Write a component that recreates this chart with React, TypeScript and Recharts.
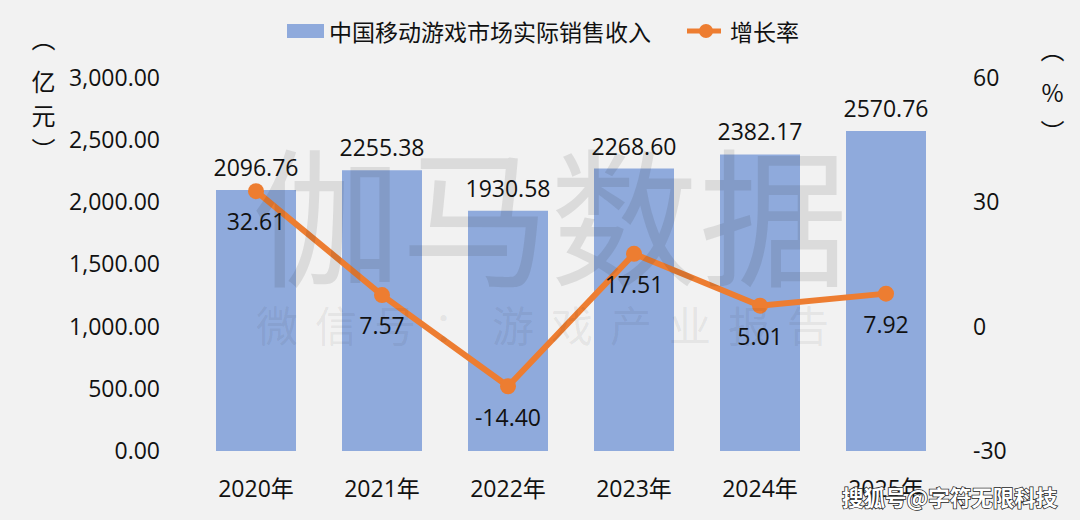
import React from 'react';
import { ComposedChart, Bar, Line, XAxis, YAxis, Legend, LabelList } from 'recharts';

const years = ['2020年', '2021年', '2022年', '2023年', '2024年', '2025年'];
const revenue = [2096.76, 2255.38, 1930.58, 2268.6, 2382.17, 2570.76];
const growth = [32.61, 7.57, -14.4, 17.51, 5.01, 7.92];
const revenueTicks = [0, 500, 1000, 1500, 2000, 2500, 3000];
const growthTicks = [-30, 0, 30, 60];

const BAR_NAME = '中国移动游戏市场实际销售收入';
const LINE_NAME = '增长率';
const FONT = '"Open Sans", "Noto Sans CJK SC", sans-serif';
const CJK_FONT = '"Noto Sans CJK SC", sans-serif';
const TEXT = '#111';

const data = years.map((year, i) => ({ year, revenue: revenue[i], growth: growth[i] }));

const formatRevenue = (val: number) =>
    val.toLocaleString('en-US', { minimumFractionDigits: 2, maximumFractionDigits: 2 });

const LegendContent = () => (
    <div style={{ display: 'flex', alignItems: 'center', height: 36, fontSize: 23, color: TEXT, fontFamily: CJK_FONT, lineHeight: '36px' }}>
        <span style={{ width: 37, height: 14, background: '#8faadc', marginRight: 5 }} />
        <span>{BAR_NAME}</span>
        <svg width={34} height={20} style={{ marginLeft: 36, marginRight: 9 }}>
            <line x1={0} y1={10} x2={34} y2={10} stroke="#ed7d31" strokeWidth={5} />
            <circle cx={19} cy={10} r={7} fill="#ed7d31" />
        </svg>
        <span>{LINE_NAME}</span>
    </div>
);

const vertical: React.CSSProperties = {
    position: 'absolute',
    writingMode: 'vertical-rl',
    fontSize: 24,
    color: TEXT,
    fontFamily: CJK_FONT,
    lineHeight: '24px',
    whiteSpace: 'nowrap',
};

export default function App() {
    return (
        <div style={{ position: 'absolute', left: 0, top: 0, width: 1080, height: 520, background: '#f2f2f2', overflow: 'hidden', fontFamily: FONT }}>
            <ComposedChart
                width={1080}
                height={520}
                data={data}
                barCategoryGap={23}
                margin={{ top: 41.5, right: 0, bottom: 0, left: 0 }}
            >
                <XAxis
                    dataKey="year"
                    height={69}
                    axisLine={false}
                    tickLine={false}
                    tick={{ fontSize: 23, fill: TEXT }}
                    tickMargin={24}
                    interval={0}
                />
                <YAxis
                    yAxisId="left"
                    width={193}
                    domain={[0, 3000]}
                    ticks={revenueTicks}
                    tickFormatter={formatRevenue}
                    axisLine={false}
                    tickLine={false}
                    tickMargin={27}
                    tick={{ fontSize: 23, fill: TEXT }}
                />
                <YAxis
                    yAxisId="right"
                    orientation="right"
                    width={131}
                    domain={[-30, 60]}
                    ticks={growthTicks}
                    axisLine={false}
                    tickLine={false}
                    tickMargin={18}
                    tick={{ fontSize: 23, fill: TEXT }}
                />
                <Legend
                    content={<LegendContent />}
                    layout="horizontal"
                    verticalAlign="top"
                    wrapperStyle={{ position: 'absolute', left: 287, top: 13, width: 540 }}
                />
                <Bar yAxisId="left" dataKey="revenue" name={BAR_NAME} fill="#8faadc" isAnimationActive={false}>
                    <LabelList
                        dataKey="revenue"
                        position="top"
                        offset={14}
                        formatter={(v: number) => v.toFixed(2)}
                        style={{ fontSize: 23, fill: TEXT }}
                    />
                </Bar>
                <Line
                    yAxisId="right"
                    dataKey="growth"
                    name={LINE_NAME}
                    stroke="#ed7d31"
                    strokeWidth={6}
                    dot={{ r: 8, fill: '#ed7d31', stroke: '#ed7d31', strokeWidth: 0 }}
                    isAnimationActive={false}
                >
                    <LabelList
                        dataKey="growth"
                        position="bottom"
                        offset={23}
                        formatter={(v: number) => v.toFixed(2)}
                        style={{ fontSize: 23, fill: TEXT }}
                    />
                </Line>
            </ComposedChart>
            {/* watermark sits over the bars, so it goes in its own layer */}
            <svg width={1080} height={520} style={{ position: 'absolute', left: 0, top: 0, pointerEvents: 'none' }}>
                <text x={550} y={275} textAnchor="middle" fontSize={149} fill="rgba(40,40,40,0.11)" fontFamily={CJK_FONT}>伽马数据</text>
                <text x={551} y={342} textAnchor="middle" fontSize={42} letterSpacing={17} fill="rgba(40,40,40,0.08)" fontFamily={CJK_FONT}>微信号：游戏产业报告</text>
            </svg>
            <div style={{ ...vertical, left: 31, top: 27, letterSpacing: 10 }}>
                <span style={{ letterSpacing: 19 }}>（</span>亿元）
            </div>
            <div style={{ ...vertical, left: 1040, top: 38, letterSpacing: 4, textOrientation: 'upright' }}>
                <span style={{ letterSpacing: 19 }}>（</span>
                <span style={{ letterSpacing: 15 }}>%</span>）
            </div>
            <div
                style={{
                    position: 'absolute',
                    left: 842,
                    top: 481,
                    fontSize: 21.5,
                    fontWeight: 700,
                    color: '#fff',
                    fontFamily: CJK_FONT,
                    WebkitTextStroke: '1.5px #222',
                    paintOrder: 'stroke fill',
                    whiteSpace: 'nowrap',
                }}
            >
                搜狐号@字符无限科技
            </div>
        </div>
    );
}
